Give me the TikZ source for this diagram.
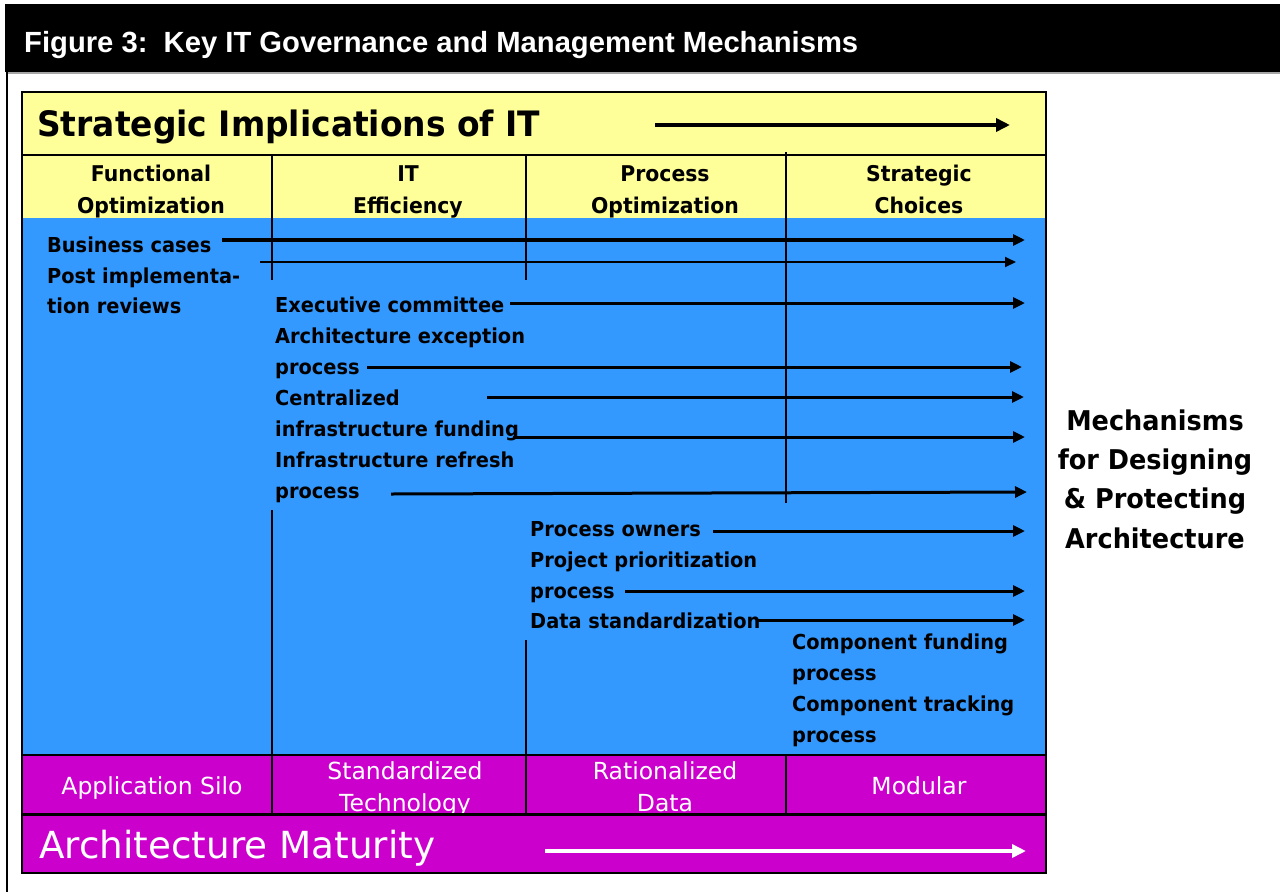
\documentclass[tikz,border=0pt]{standalone}
\usepackage{fontspec}
\setmainfont{Liberation Sans}
\newfontfamily\labelfont[FakeStretch=0.94]{DejaVu Sans}
\newfontfamily\stagefont{DejaVu Sans}
\usetikzlibrary{arrows.meta}
\definecolor{hdryellow}{HTML}{FFFF99}
\definecolor{midblue}{HTML}{3399FF}
\definecolor{matmagenta}{HTML}{CC00CC}

\begin{document}
\begin{tikzpicture}[x=1pt,y=-1pt,
  mech/.style={font=\labelfont\bfseries\fontsize{20.6}{26}\selectfont, anchor=base west, inner sep=0pt},
  colhead/.style={font=\labelfont\bfseries\fontsize{21.7}{26}\selectfont, anchor=base, inner sep=0pt},
  matcell/.style={font=\stagefont\fontsize{23.5}{26}\selectfont, text=white, anchor=base, inner sep=0pt},
  sidetext/.style={font=\labelfont\bfseries\fontsize{27.2}{30}\selectfont, anchor=base, inner sep=0pt},
  flow/.style={line width=3pt, -{Triangle[length=12pt,width=11pt]}},
  thinflow/.style={line width=2pt, -{Triangle[length=11pt,width=10pt]}},
  bigflow/.style={line width=4pt, -{Triangle[length=14pt,width=13pt]}},
  divider/.style={line width=2.5pt},
]
\useasboundingbox (0,0) rectangle (1280,892);
\fill[white] (0,0) rectangle (1280,892);

% caption band and frame
\fill[black] (5,4) rectangle (1280,72);
\draw[gray!70, line width=1.5pt] (6,73) -- (1280,73);
\draw[black, line width=2pt] (7,72) -- (7,892);
\node[font=\bfseries\fontsize{29.2}{32}\selectfont, text=white, anchor=base west, inner sep=0pt]
  (caption) at (24,52) {Figure 3:\ \ Key IT Governance and Management Mechanisms};

% table bands
\fill[hdryellow] (22,92) rectangle (1046,218);
\fill[midblue] (22,218) rectangle (1046,755);
\fill[matmagenta] (22,755) rectangle (1046,873);

% title rows
\node[font=\labelfont\bfseries\fontsize{35}{40}\selectfont, anchor=base west, inner sep=0pt]
  (strat) at (37,136) {Strategic Implications of IT};
\coordinate (stratS) at (655,125);
\coordinate (stratE) at (1010,125);
\draw[bigflow] (stratS) -- (stratE);

\node[font=\stagefont\fontsize{37.3}{40}\selectfont, text=white, anchor=base west, inner sep=0pt]
  (matur) at (39,858) {Architecture Maturity};
\coordinate (maturS) at (545,851);
\coordinate (maturE) at (1026,851);
\draw[bigflow, white] (maturS) -- (maturE);

% column headers
\node[colhead] (h1a) at (151,181) {Functional};
\node[colhead] (h1b) at (151,213) {Optimization};
\node[colhead] (h2a) at (408,181) {IT};
\node[colhead] (h2b) at (408,213) {Efficiency};
\node[colhead] (h3a) at (665,181) {Process};
\node[colhead] (h3b) at (665,213) {Optimization};
\node[colhead] (h4a) at (919,181) {Strategic};
\node[colhead] (h4b) at (919,213) {Choices};

% maturity stages
\node[matcell] (m1) at (152,794) {Application Silo};
\node[matcell] (m2a) at (405,779) {Standardized};
\node[matcell] (m2b) at (405,811) {Technology};
\node[matcell] (m3a) at (665,779) {Rationalized};
\node[matcell] (m3b) at (665,811) {Data};
\node[matcell] (m4) at (919,794) {Modular};

% column dividers
\draw[divider] (272,155) -- (272,280);
\draw[divider] (272,510) -- (272,813);
\draw[divider] (526,155) -- (526,280);
\draw[divider] (526,640) -- (526,813);
\draw[divider] (786,152) -- (786,503);
\draw[divider] (786,755) -- (786,813);

% row rules and outline
\draw[line width=2pt] (22,155) -- (1046,155);
\draw[line width=2pt] (22,755) -- (1046,755);
\draw[line width=3pt] (22,814) -- (1046,814);
\draw[line width=2.5pt] (22,92) rectangle (1046,873);

% mechanisms: functional optimization
\node[mech] (bc) at (47,252) {Business cases};
\node[mech] (pi1) at (47,283) {Post implementa-};
\node[mech] (pi2) at (47,313) {tion reviews};
\coordinate (bcS) at (222,240);  \coordinate (bcE) at (1025,240);
\coordinate (piS) at (260,262);  \coordinate (piE) at (1016,262);
\draw[flow, line width=3.5pt] (bcS) -- (bcE);
\draw[thinflow] (piS) -- (piE);

% mechanisms: IT efficiency
\node[mech] (ec) at (275,312) {Executive committee};
\node[mech] (ae1) at (275,343) {Architecture exception};
\node[mech] (ae2) at (275,374) {process};
\node[mech] (cf1) at (275,405) {Centralized};
\node[mech] (cf2) at (275,436) {infrastructure funding};
\node[mech] (ir1) at (275,467) {Infrastructure refresh};
\node[mech] (ir2) at (275,498) {process};
\coordinate (ecS) at (510,303);  \coordinate (ecE) at (1025,303);
\coordinate (aeS) at (367,367);  \coordinate (aeE) at (1022,367);
\coordinate (cfS) at (487,397);  \coordinate (cfE) at (1024,397);
\coordinate (cgS) at (513,437);  \coordinate (cgE) at (1025,437);
\coordinate (irS) at (391,494);  \coordinate (irE) at (1027,492);
\draw[flow] (ecS) -- (ecE);
\draw[flow] (aeS) -- (aeE);
\draw[flow] (cfS) -- (cfE);
\draw[flow] (cgS) -- (cgE);
\draw[flow] (irS) -- (irE);

% mechanisms: process optimization
\node[mech] (po) at (530,536) {Process owners};
\node[mech] (pp1) at (530,567) {Project prioritization};
\node[mech] (pp2) at (530,598) {process};
\node[mech] (ds) at (530,628) {Data standardization};
\coordinate (poS) at (713,531);  \coordinate (poE) at (1025,531);
\coordinate (ppS) at (625,591);  \coordinate (ppE) at (1025,591);
\coordinate (dsS) at (757,620);  \coordinate (dsE) at (1025,620);
\draw[flow] (poS) -- (poE);
\draw[flow] (ppS) -- (ppE);
\draw[flow] (dsS) -- (dsE);

% mechanisms: strategic choices
\node[mech] (cp1) at (792,649) {Component funding};
\node[mech] (cp2) at (792,680) {process};
\node[mech] (ct1) at (792,711) {Component tracking};
\node[mech] (ct2) at (792,742) {process};

% side label
\node[sidetext] (s1) at (1155,430) {Mechanisms};
\node[sidetext] (s2) at (1155,469) {for Designing};
\node[sidetext] (s3) at (1155,508) {\& Protecting};
\node[sidetext] (s4) at (1155,548) {Architecture};
\end{tikzpicture}
\end{document}
